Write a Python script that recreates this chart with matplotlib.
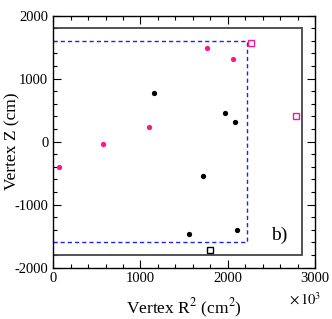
import matplotlib
matplotlib.use("Agg")
import matplotlib.pyplot as plt
from matplotlib.ticker import MultipleLocator

plt.rcParams['font.family'] = ['Liberation Serif', 'DejaVu Serif']
plt.rcParams['mathtext.fontset'] = 'stix'
plt.rcParams['axes.unicode_minus'] = False

# data (x in units of 10^3 cm^2, z in cm)
magenta_x = [72, 575, 1094, 1760, 2065]
magenta_z = [-406, -37, 229, 1483, 1308]
black_x = [1151, 1973, 2088, 1718, 1551, 2103]
black_z = [773, 460, 308, -540, -1470, -1397]
mag_sq_x = [2263, 2781]
mag_sq_z = [1556, 397]
blk_sq_x = [1798]
blk_sq_z = [-1719]

# detector boundaries
outer_r2 = 2850
outer_z = 1800
fid_r2 = 2220
fid_z = 1600

fig = plt.figure(figsize=(3.32, 3.19), dpi=100)
ax = fig.add_axes([0.16, 0.1614, 0.789, 0.790])

ax.plot([0, outer_r2, outer_r2, 0], [outer_z, outer_z, -outer_z, -outer_z],
        color='#444444', lw=1.3, solid_joinstyle='miter')
ax.plot([0, fid_r2, fid_r2, 0], [fid_z, fid_z, -fid_z, -fid_z],
        color='#2222ee', lw=1.0, ls=(0, (3, 2.2)))

ax.plot(magenta_x, magenta_z, 'o', color='#ff1493', ms=3.8, mec='none')
ax.plot(black_x, black_z, 'o', color='black', ms=3.8, mec='none')
ax.plot(mag_sq_x, mag_sq_z, 's', mfc='white', mec='#ff1493', ms=4.5, mew=1.0)
ax.plot(blk_sq_x, blk_sq_z, 's', mfc='white', mec='black', ms=4.0, mew=1.0)

ax.set_xlim(0, 3000)
ax.set_ylim(-2000, 2000)
ax.xaxis.set_major_locator(MultipleLocator(1000))
ax.xaxis.set_minor_locator(MultipleLocator(200))
ax.yaxis.set_major_locator(MultipleLocator(1000))
ax.yaxis.set_minor_locator(MultipleLocator(200))
ax.tick_params(which='both', direction='in', top=True, right=True, labelsize=10.5)
ax.tick_params(which='major', length=5.5, width=0.8)
ax.tick_params(which='minor', length=2.7, width=0.8)
for s in ax.spines.values():
    s.set_linewidth(1.0)

ax.set_xlabel('Vertex R$^2$ (cm$^2$)', fontsize=12.5)
ax.set_ylabel('Vertex Z (cm)', fontsize=12.5)
ax.xaxis.set_label_coords(0.5, -0.117)
ax.yaxis.set_label_coords(-0.126, 0.5)
ax.text(2500, -1560, 'b)', fontsize=14, va='baseline')
ax.text(0.962, -0.125, r'$\times\,10^3$', transform=ax.transAxes, fontsize=10.5,
        ha='center', va='center')

fig.savefig('out.png', dpi=100)
